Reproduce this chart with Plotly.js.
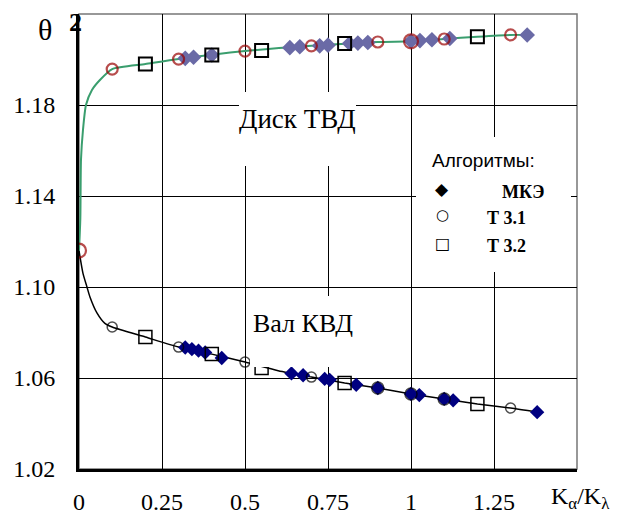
<!DOCTYPE html>
<html><head><meta charset="utf-8">
<script src="https://cdn.plot.ly/plotly-3.0.1.min.js"></script>
<style>html,body{margin:0;padding:0;background:#fff}#chart{width:619px;height:511px}</style>
</head><body><div id="chart"></div>
<script>
// ---- data ----
const xTickVals = [0, 0.25, 0.5, 0.75, 1, 1.25];
const xTickText = ["0", "0.25", "0.5", "0.75", "1", "1.25"];
const yTickVals = [1.02, 1.06, 1.10, 1.14, 1.18];
const yTickText = ["1.02", "1.06", "1.10", "1.14", "1.18"];

// Диск ТВД (upper)
const diskLineX = [0, 0.004, 0.006, 0.012, 0.021, 0.039, 0.063, 0.1, 0.2, 0.3, 0.5, 0.7, 0.9, 1.0, 1.1, 1.2, 1.3, 1.35];
const diskLineY = [1.116, 1.13, 1.156, 1.169, 1.18, 1.1866, 1.191, 1.1958, 1.198, 1.2002, 1.2037, 1.206, 1.2077, 1.208, 1.209, 1.21, 1.2108, 1.2108];
const diskFemX = [0.32, 0.345, 0.40, 0.635, 0.665, 0.725, 0.75, 0.815, 0.84, 0.87, 1.0, 1.027, 1.063, 1.117, 1.35];
const diskFemY = [1.2005, 1.201, 1.202, 1.2052, 1.2056, 1.206, 1.2063, 1.207, 1.2072, 1.2075, 1.208, 1.2083, 1.2087, 1.2092, 1.2108];
const diskT31X = [0, 0.1, 0.3, 0.5, 0.7, 0.9, 1.0, 1.1, 1.3];
const diskT31Y = [1.116, 1.1958, 1.2002, 1.2037, 1.206, 1.2077, 1.208, 1.209, 1.2108];
const diskT32X = [0.2, 0.4, 0.55, 0.8, 1.2];
const diskT32Y = [1.198, 1.202, 1.204, 1.207, 1.21];

// Вал КВД (lower)
const shaftLineX = [0, 0.012, 0.024, 0.033, 0.054, 0.078, 0.1, 0.2, 0.3, 0.4, 0.5, 0.6, 0.7, 0.8, 0.9, 1.0, 1.1, 1.2, 1.3, 1.38];
const shaftLineY = [1.116, 1.106, 1.1, 1.0956, 1.0886, 1.084, 1.0824, 1.078, 1.0736, 1.0705, 1.067, 1.0632, 1.0604, 1.0578, 1.0556, 1.053, 1.0508, 1.0486, 1.0468, 1.045];
const shaftFemX = [0.32, 0.34, 0.36, 0.38, 0.43, 0.64, 0.675, 0.74, 0.755, 0.835, 0.90, 1.0, 1.025, 1.10, 1.127, 1.38];
const shaftFemY = [1.0734, 1.0727, 1.072, 1.0712, 1.0688, 1.062, 1.0612, 1.0596, 1.0592, 1.057, 1.0556, 1.053, 1.0525, 1.0508, 1.0502, 1.045];
const shaftT31X = [0.1, 0.3, 0.5, 0.7, 0.9, 1.0, 1.1, 1.3];
const shaftT31Y = [1.0824, 1.0736, 1.067, 1.0604, 1.0556, 1.053, 1.0508, 1.0468];
const shaftT32X = [0.2, 0.4, 0.55, 0.8, 1.2];
const shaftT32Y = [1.078, 1.0705, 1.0644, 1.0578, 1.0486];

const legendSymbols = ["\u25C6", "\u25CB", "\u25A1"];
const legendNames = ["МКЭ", "Т 3.1", "Т 3.2"];

// ---- layout helpers ----
const W = 619, H = 511, L = 79, R = 577, T = 14, B = 469;
const px = x => (x - L) / (R - L);
const py = y => (B - y) / (B - T);
const serif = "Liberation Serif";
const sans = "Liberation Sans";

const traces = [
  {x: shaftLineX, y: shaftLineY, mode: "lines", line: {color: "#000", width: 1.5, shape: "spline", smoothing: 0.6}, hoverinfo: "skip"},
  {x: diskLineX, y: diskLineY, mode: "lines", line: {color: "#3a9e6e", width: 2, shape: "spline", smoothing: 0.6}, hoverinfo: "skip"},
  {x: shaftFemX, y: shaftFemY, mode: "markers", marker: {symbol: "diamond", size: 11, color: "#000080"}},
  {x: shaftT31X, y: shaftT31Y, mode: "markers",
   marker: {symbol: shaftT31X.map(v => (v >= 0.9 && v <= 1.1) ? "circle" : "circle-open"),
            size: shaftT31X.map(v => (v >= 0.9 && v <= 1.1) ? 12 : 10),
            color: shaftT31X.map(v => (v >= 0.9 && v <= 1.1) ? "#000080" : "#000"),
            line: {color: "#000", width: 1.5}}},
  {x: shaftT32X, y: shaftT32Y, mode: "markers", marker: {symbol: "square-open", size: 13, color: "#000", line: {width: 1.5}}},
  {x: diskFemX, y: diskFemY, mode: "markers", marker: {symbol: "diamond", size: 12, color: "#6a6aa6"}},
  {x: diskT32X, y: diskT32Y, mode: "markers", marker: {symbol: "square-open", size: 13, color: "#000", line: {width: 2}}},
  {x: diskT31X, y: diskT31Y, mode: "markers",
   marker: {symbol: "circle-open", size: diskT31X.map(v => (v === 0 || v === 1.0) ? 14 : 11), color: "#990000", line: {width: 2.2}}}
];

const annotations = [
  {text: "θ", x: px(45), y: py(30), font: {family: serif, size: 30, color: "#000"}},
  {text: "<b>2</b>", x: px(75), y: py(22), font: {family: serif, size: 26, color: "#000"}},
  {text: "K<sub>α</sub>/K<sub>λ</sub>", x: px(580), y: py(498), font: {family: serif, size: 24, color: "#000"}},
  {text: "Диск ТВД", x: px(297), y: py(119), font: {family: serif, size: 27, color: "#000"}},
  {text: "Вал КВД", x: px(303), y: py(323), font: {family: serif, size: 26, color: "#000"}},
  {text: "Алгоритмы:", x: px(483), y: py(160), font: {family: sans, size: 19, color: "#000"}},
  {text: legendSymbols[0], x: px(442), y: py(189), font: {family: "DejaVu Sans", size: 17, color: "#000"}},
  {text: legendSymbols[1], x: px(442), y: py(215), font: {family: "DejaVu Sans", size: 15, color: "#000"}},
  {text: legendSymbols[2], x: px(442), y: py(243), font: {family: "DejaVu Sans", size: 16, color: "#000"}},
  {text: "<b>" + legendNames[0] + "</b>", x: px(500), y: py(192), xanchor: "left", font: {family: serif, size: 18, color: "#000"}},
  {text: "<b>" + legendNames[1] + "</b>", x: px(485), y: py(218), xanchor: "left", font: {family: serif, size: 18, color: "#000"}},
  {text: "<b>" + legendNames[2] + "</b>", x: px(485), y: py(246), xanchor: "left", font: {family: serif, size: 18, color: "#000"}}
].map(a => Object.assign({xref: "paper", yref: "paper", showarrow: false, xanchor: "center", yanchor: "middle"}, a));

const whiteBox = (x0, y0, x1, y1) => ({type: "rect", xref: "paper", yref: "paper", x0: px(x0), x1: px(x1), y0: py(y1), y1: py(y0),
  fillcolor: "#fff", line: {width: 0}, layer: "above"});

const shapes = [
  {type: "rect", xref: "paper", yref: "paper", x0: 0, x1: 1, y0: 0, y1: 1, line: {color: "#777", width: 1.5}, layer: "below"},
  whiteBox(239, 92, 356, 166),
  whiteBox(250, 296, 408, 367),
  whiteBox(416, 137, 571, 272)
];

const layout = {
  width: W, height: H,
  margin: {l: L, r: W - R, t: T, b: H - B},
  paper_bgcolor: "#fff", plot_bgcolor: "#fff",
  showlegend: false,
  font: {family: serif},
  xaxis: {range: [0, 1.5], tickvals: xTickVals, ticktext: xTickText, showgrid: true, gridcolor: "#000", gridwidth: 1,
          zeroline: false, showline: true, linecolor: "#000", linewidth: 3, ticks: "", ticklabelstandoff: 9,
          tickfont: {family: serif, size: 24, color: "#000"}, fixedrange: true},
  yaxis: {range: [1.02, 1.22], tickvals: yTickVals, ticktext: yTickText, showgrid: true, gridcolor: "#000", gridwidth: 1,
          zeroline: false, showline: true, linecolor: "#000", linewidth: 3, ticks: "", ticklabelstandoff: 16,
          tickfont: {family: serif, size: 24, color: "#000"}, fixedrange: true},
  shapes: shapes,
  annotations: annotations
};

Plotly.newPlot("chart", traces, layout, {displayModeBar: false, staticPlot: true});
</script>
</body></html>
